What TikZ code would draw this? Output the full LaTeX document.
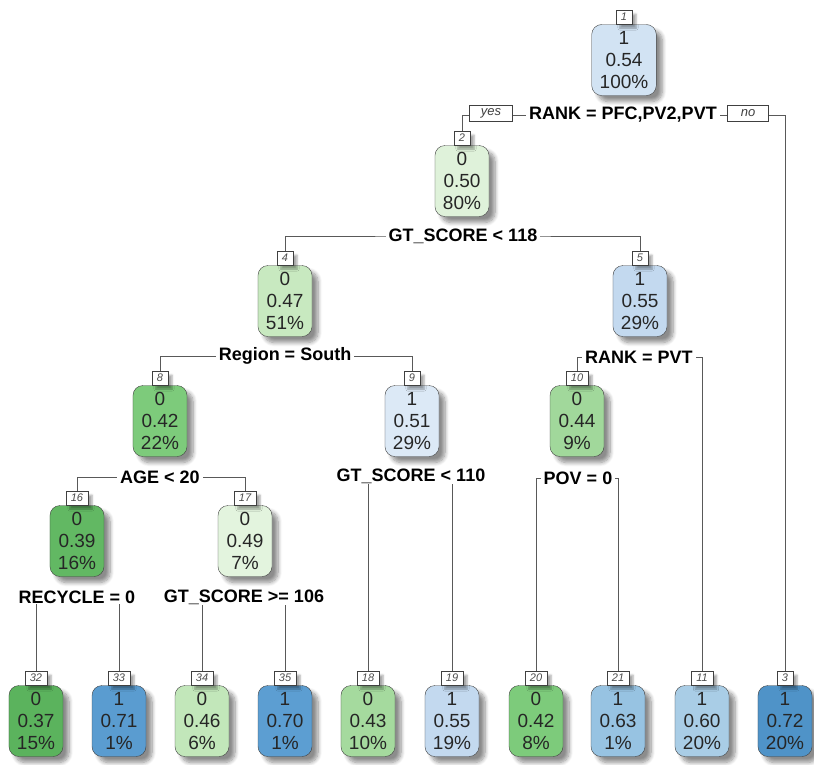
\documentclass[tikz,border=0pt]{standalone}
\usepackage{fontspec}
\setmainfont{Liberation Sans}
\usetikzlibrary{shadows.blur, backgrounds}

\definecolor{grn37}{HTML}{5BB35D}
\definecolor{grn39}{HTML}{62B863}
\definecolor{grn42}{HTML}{7DCB7B}
\definecolor{grn43}{HTML}{A5DA9E}
\definecolor{grn44}{HTML}{A1D89B}
\definecolor{grn46}{HTML}{C2E7BA}
\definecolor{grn47}{HTML}{C8E9C0}
\definecolor{grn49}{HTML}{E3F4DE}
\definecolor{grn50}{HTML}{DFF2DA}
\definecolor{blu51}{HTML}{DCE9F6}
\definecolor{blu54}{HTML}{D2E3F3}
\definecolor{blu55}{HTML}{C3D9EF}
\definecolor{blu60}{HTML}{A9CDE6}
\definecolor{blu63}{HTML}{97C3E2}
\definecolor{blu70}{HTML}{5C9ED2}
\definecolor{blu71}{HTML}{5A9CD0}
\definecolor{blu72}{HTML}{4F93C8}

\begin{document}
\begin{tikzpicture}[x=1pt,y=-1pt,
        treebox/.style={draw=black!75,rounded corners=10pt,minimum width=54pt,minimum height=71pt,
            inner xsep=8pt,align=center,text=black!85,font=\fontsize{19}{22}\selectfont,
            blur shadow={shadow xshift=6pt,shadow yshift=-6pt,shadow blur steps=8,
                shadow blur radius=4pt,shadow opacity=45}},
        tagbox/.style={draw=black!75,fill=white,inner xsep=5pt,inner ysep=1pt,minimum height=14pt,
            text=black!70,font=\itshape\fontsize{11}{11}\selectfont,
            blur shadow={shadow xshift=4pt,shadow yshift=-4pt,shadow blur steps=5,
                shadow blur radius=2pt,shadow opacity=35}},
        splitlbl/.style={fill=white,inner xsep=3pt,inner ysep=1pt,font=\bfseries\fontsize{18}{18}\selectfont},
        yesno/.style={draw=black!75,fill=white,minimum height=16pt,inner sep=1pt,
            text=black!75,font=\itshape\fontsize{13}{13}\selectfont},
        edge/.style={draw=black!65,line width=0.8pt}]

    \useasboundingbox (0,0) rectangle (814,764);

    % inner nodes
    \node[treebox,fill=blu54,label={[tagbox,name=t1]above:1}] (n1) at (624,60) {1\\0.54\\100\%};
    \node[treebox,fill=grn50,label={[tagbox,name=t2]above:2}] (n2) at (462,181) {0\\0.50\\80\%};
    \node[treebox,fill=grn47,label={[tagbox,name=t4]above:4}] (n4) at (285,301) {0\\0.47\\51\%};
    \node[treebox,fill=blu55,label={[tagbox,name=t5]above:5}] (n5) at (640,301) {1\\0.55\\29\%};
    \node[treebox,fill=grn42,label={[tagbox,name=t8]above:8}] (n8) at (160,421) {0\\0.42\\22\%};
    \node[treebox,fill=blu51,label={[tagbox,name=t9]above:9}] (n9) at (412,421) {1\\0.51\\29\%};
    \node[treebox,fill=grn44,label={[tagbox,name=t10]above:10}] (n10) at (577,421) {0\\0.44\\9\%};
    \node[treebox,fill=grn39,label={[tagbox,name=t16]above:16}] (n16) at (77,541) {0\\0.39\\16\%};
    \node[treebox,fill=grn49,label={[tagbox,name=t17]above:17}] (n17) at (245,541) {0\\0.49\\7\%};

    % leaves
    \node[treebox,fill=grn37,label={[tagbox,name=t32]above:32}] (n32) at (36,721) {0\\0.37\\15\%};
    \node[treebox,fill=blu71,label={[tagbox,name=t33]above:33}] (n33) at (119,721) {1\\0.71\\1\%};
    \node[treebox,fill=grn46,label={[tagbox,name=t34]above:34}] (n34) at (202,721) {0\\0.46\\6\%};
    \node[treebox,fill=blu70,label={[tagbox,name=t35]above:35}] (n35) at (285,721) {1\\0.70\\1\%};
    \node[treebox,fill=grn43,label={[tagbox,name=t18]above:18}] (n18) at (368,721) {0\\0.43\\10\%};
    \node[treebox,fill=blu55,label={[tagbox,name=t19]above:19}] (n19) at (452,721) {1\\0.55\\19\%};
    \node[treebox,fill=grn42,label={[tagbox,name=t20]above:20}] (n20) at (536,721) {0\\0.42\\8\%};
    \node[treebox,fill=blu63,label={[tagbox,name=t21]above:21}] (n21) at (618,721) {1\\0.63\\1\%};
    \node[treebox,fill=blu60,label={[tagbox,name=t11]above:11}] (n11) at (702,721) {1\\0.60\\20\%};
    \node[treebox,fill=blu72,label={[tagbox,name=t3]above:3}] (n3) at (785,721) {1\\0.72\\20\%};

    % split labels
    \node[splitlbl] (s1) at (623,115) {RANK = PFC,PV2,PVT};
    \node[splitlbl] (s2) at (463,236) {GT\_SCORE < 118};
    \node[splitlbl] (s4) at (285,356) {Region = South};
    \node[splitlbl] (s5) at (639,357) {RANK = PVT};
    \node[splitlbl] (s8) at (160,477) {AGE < 20};
    \node[splitlbl] (s9) at (411,476) {GT\_SCORE < 110};
    \node[splitlbl] (s10) at (578,478) {POV = 0};
    \node[splitlbl] (s16) at (77,597) {RECYCLE = 0};
    \node[splitlbl] (s17) at (244,597) {GT\_SCORE >= 106};

    \node[yesno,minimum width=43pt] (yes) at (491,113) {yes};
    \node[yesno,minimum width=41pt] (no) at (748,113) {no};

    % connectors
    \begin{scope}[on background layer]
        \foreach \s/\l/\r in {1/2/3,2/4/5,4/8/9,5/10/11,8/16/17,9/18/19,10/20/21,16/32/33,17/34/35}
            \draw[edge] (t\l.north) |- (s\s.center) -| (t\r.north);
    \end{scope}
\end{tikzpicture}
\end{document}
